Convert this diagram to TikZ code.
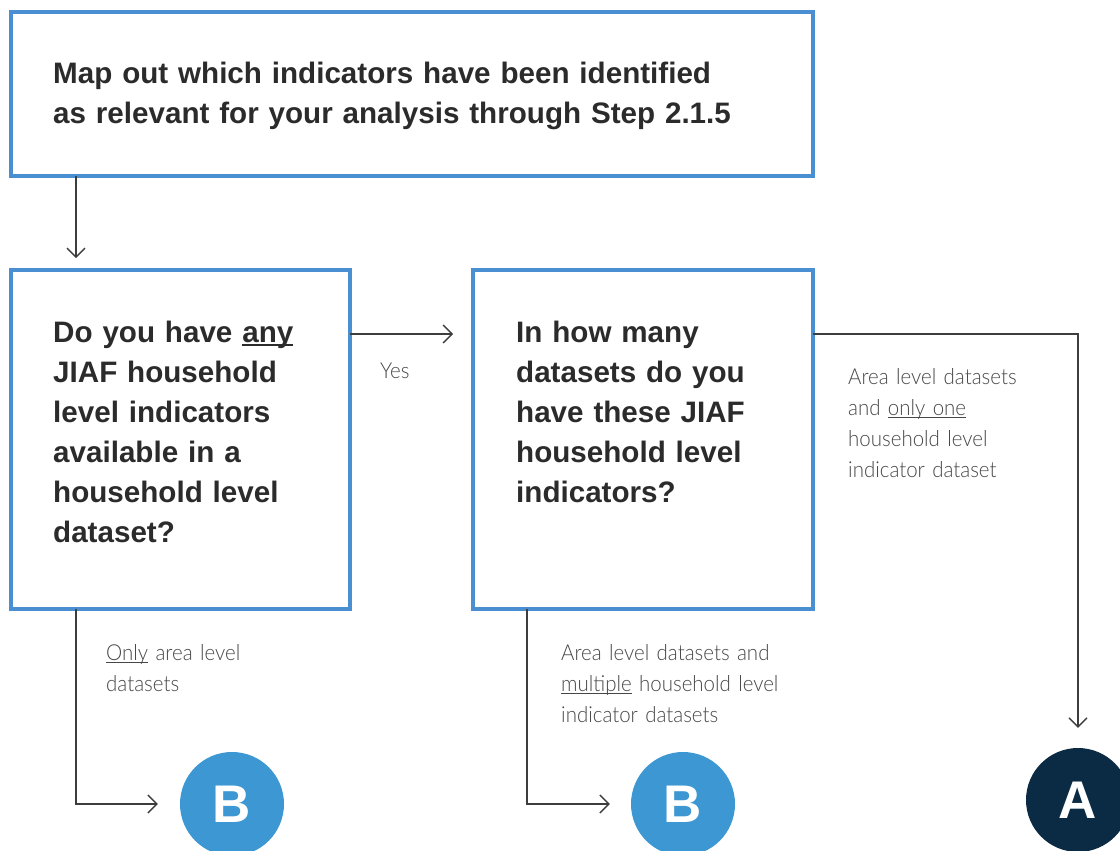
\documentclass[tikz,border=0pt]{standalone}
\usepackage{fontspec}
\setmainfont{Liberation Sans}
\newfontfamily\thinfont[FakeStretch=0.93]{Lato Light}
\usetikzlibrary{arrows.meta,calc}

\definecolor{boxblue}{HTML}{4A8FD1}
\definecolor{circblue}{HTML}{3C97D3}
\definecolor{navy}{HTML}{0B2A44}
\definecolor{inkgray}{HTML}{2B2B2B}
\definecolor{notegray}{HTML}{474747}
\definecolor{linkgray}{HTML}{3D3D3D}

% underline drawn close under the baseline
\newsavebox\ulbox
\newcommand\ulword[3]{\leavevmode\sbox\ulbox{#1}\rlap{\rule[-#2]{\wd\ulbox}{#3}}\usebox\ulbox}
\newcommand\ulbold[1]{\ulword{#1}{4pt}{2pt}}
\newcommand\ulthin[1]{\ulword{#1}{3pt}{1.2pt}}

\tikzset{
  box/.style={draw=boxblue, line width=4pt, rectangle, inner sep=0, outer sep=0, anchor=north west},
  question/.style={anchor=base west, inner sep=0, align=left, text=inkgray,
    font=\fontsize{29.6}{40}\selectfont\bfseries},
  note/.style={anchor=base west, inner sep=0, align=left, text=notegray,
    font=\thinfont\fontsize{22}{31}\selectfont},
  link/.style={draw=linkgray, line width=1.3pt, -{Straight Barb[length=9pt,width=18pt]}},
  letter/.style={circle, minimum size=104pt, inner sep=0, text=white,
    font=\fontsize{53}{53}\selectfont\bfseries}
}

\begin{document}
\begin{tikzpicture}[x=1pt,y=-1pt]
\useasboundingbox (0,0) rectangle (1120,851);

% boxes
\node[box, minimum width=802pt, minimum height=164pt] (map) at (11,12) {};
\node[box, minimum width=339pt, minimum height=339pt] (anyhh) at (11,270) {};
\node[box, minimum width=340pt, minimum height=339pt] (howmany) at (473,270) {};

\node[question, text width=740pt] (maptxt) at (53,84)
  {Map out which indicators have been identified\\as relevant for your analysis through Step 2.1.5};
\node[question, text width=290pt] (anytxt) at (53,342)
  {Do you have \ulbold{any}\\JIAF household\\level indicators\\available in a\\household level\\dataset?};
\node[question, text width=290pt] (howtxt) at (516,342)
  {In how many\\datasets do you\\have these JIAF\\household level\\indicators?};

% end points
\node[letter, fill=circblue] (b1) at (232,804) {B};
\node[letter, fill=circblue] (b2) at (683,804) {B};
\node[letter, fill=navy] (a) at (1078,800) {A};

% connectors
\draw[link] ($(map.south west)+(65,0)$) -- ($(anyhh.north west)+(65,-12)$);
\draw[link] ($(anyhh.north east)+(0,64)$) -- ($(howmany.north west)+(-20,64)$);
\draw[link, shorten >=20pt] ($(howmany.north east)+(0,64)$) -| (a);
\draw[link, shorten >=22pt] ($(anyhh.south west)+(65,0)$) |- (b1);
\draw[link, shorten >=21pt] ($(howmany.south west)+(54,0)$) |- (b2);

\node[note] (yes) at (380,378) {Yes};
\node[note, text width=250pt] (areaone) at (848,384)
  {Area level datasets\\and \ulthin{only one}\\household level\\indicator dataset};
\node[note, text width=250pt] (onlyarea) at (106,660)
  {\ulthin{Only} area level\\datasets};
\node[note, text width=250pt] (multi) at (561,660)
  {Area level datasets and\\\ulthin{multiple} household level\\indicator datasets};
\end{tikzpicture}
\end{document}
